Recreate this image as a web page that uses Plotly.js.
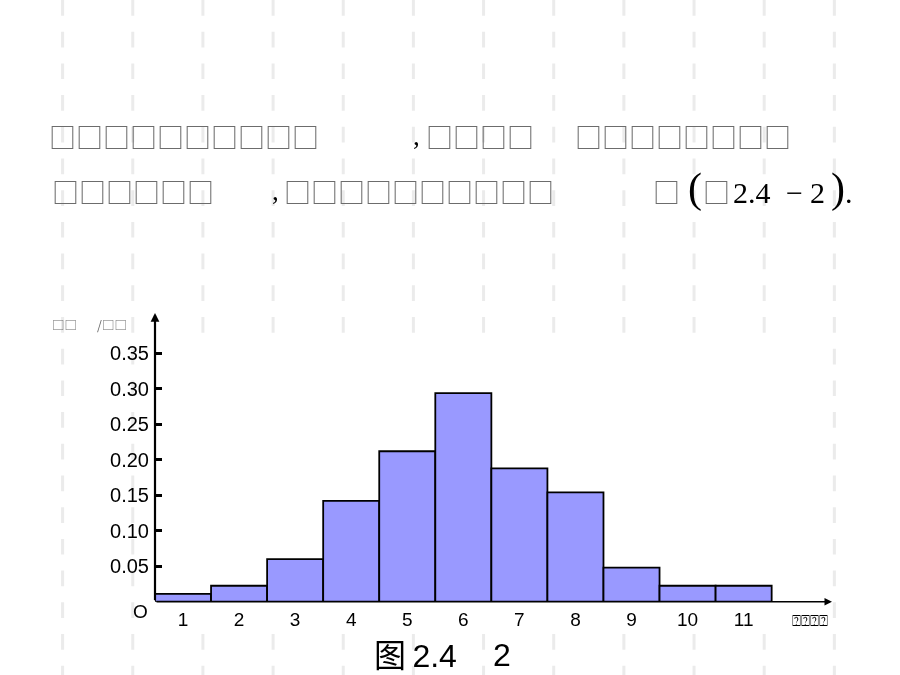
<!DOCTYPE html>
<html>
<head>
<meta charset="utf-8">
<script src="https://cdn.plot.ly/plotly-3.0.1.min.js"></script>
<style>
  html, body { margin: 0; padding: 0; background: #ffffff; }
  #chart { width: 900px; height: 675px; }
  #chart .annotation-text, #chart .xtick text, #chart .ytick text { filter: grayscale(100%); }
</style>
</head>
<body>
<div id="chart"></div>
<script>
// ---- data ----
const binNumbers = [1, 2, 3, 4, 5, 6, 7, 8, 9, 10, 11];
const binLabels = ['1', '2', '3', '4', '5', '6', '7', '8', '9', '10', '11'];
const densityValues = [0.011, 0.0225, 0.06, 0.142, 0.212, 0.294, 0.188, 0.154, 0.048, 0.0225, 0.0225];
const yTickValues = [0.05, 0.10, 0.15, 0.20, 0.25, 0.30, 0.35];
const yTickLabels = ['0.05', '0.10', '0.15', '0.20', '0.25', '0.30', '0.35'];

// ---- texts (the reference shows missing-glyph boxes) ----
const yTitleA = '□□';
const yTitleB = '/□□';
const xTitle = '⍰⍰⍰⍰';
const captionA = '图\u20092.4';
const captionB = '2';
const originLabel = 'O';

// ---- layout helpers (page pixels -> paper fractions) ----
const W = 900, H = 675;
const px = x => x / W;
const py = y => 1 - y / H;

const axisLeftPx = 155, axisTipPx = 832, axisZeroPx = 601.7, axisTopPx = 313;
const pxPerUnitX = 56.06, pxPerUnitY = 709.7;
const xMin = 0.5, xMax = xMin + (axisTipPx - axisLeftPx) / pxPerUnitX;
const yMax = (axisZeroPx - axisTopPx) / pxPerUnitY;

const trace = {
  type: 'bar',
  x: binNumbers,
  y: densityValues,
  width: 1,
  marker: { color: '#9999ff', line: { color: '#000000', width: 1.8 } },
  hoverinfo: 'skip'
};

// background dashed columns
const shapes = [];
for (let k = 0; k < 12; k++) {
  const xp = 62.6 + 70.16 * k;
  shapes.push({
    type: 'line', xref: 'paper', yref: 'paper', layer: 'below',
    x0: px(xp), x1: px(xp), y0: 1, y1: 0,
    line: { color: '#ebebeb', width: 3, dash: '15.7px,16px' }
  });
}
// white panel behind the chart
shapes.push({
  type: 'rect', xref: 'paper', yref: 'paper', layer: 'below',
  x0: px(140), x1: px(805), y0: py(630), y1: py(335),
  fillcolor: '#ffffff', line: { width: 0 }
});

const tofu = 'Noto Sans CJK SC';
const serif = 'Liberation Serif, Times New Roman, serif';
const sans = 'Liberation Sans, Arial, sans-serif';
const gray = '#6c6c6c';

function txt(text, x, y, size, family, color, xanchor) {
  return {
    text: text, xref: 'paper', yref: 'paper', x: px(x), y: py(y),
    xanchor: xanchor || 'left', yanchor: 'middle', showarrow: false,
    borderpad: 0,
    font: { size: size, family: family, color: color }
  };
}

const annotations = [
  // line 1
  txt('□'.repeat(10), 47.5, 136, 27, tofu, gray),
  txt(',', 412, 136, 27, serif, '#000'),
  txt('□'.repeat(4), 424.5, 136, 27, tofu, gray),
  txt('□'.repeat(8), 573.5, 136, 27, tofu, gray),
  // line 2
  txt('□'.repeat(6), 50.5, 191.5, 27, tofu, gray),
  txt(',', 271, 191.5, 27, serif, '#000'),
  txt('□'.repeat(10), 282.5, 191.5, 27, tofu, gray),
  txt('□', 651.5, 191.5, 27, tofu, gray),
  txt('(', 687, 188, 42, serif, '#000'),
  txt('□', 701.5, 191.5, 27, tofu, gray),
  txt('2.4', 732, 192, 30, serif, '#000'),
  txt('−', 794.5, 192, 30, serif, '#000', 'center'),
  txt('2', 809, 192, 30, serif, '#000'),
  txt(')', 830, 188, 42, serif, '#000'),
  txt('.', 844, 192, 30, serif, '#000'),
  // axis titles
  txt(yTitleA, 50.5, 324, 12.5, tofu, gray),
  txt(yTitleB, 95.5, 324, 12.5, tofu, gray),
  txt(xTitle, 791, 621, 15, 'DejaVu Sans', '#000'),
  // origin
  txt(originLabel, 140, 611, 19, sans, '#000', 'center'),
  // caption
  txt(captionA, 373, 656, 32, sans + ', Noto Sans CJK SC', '#000'),
  txt(captionB, 492, 655, 32, sans, '#000'),
  // axis arrows
  {
    xref: 'x', yref: 'y', axref: 'x', ayref: 'y',
    x: xMin, y: yMax, ax: xMin, ay: 0, text: '', showarrow: true,
    arrowhead: 2, arrowsize: 0.8, arrowwidth: 2.2, arrowcolor: '#000'
  },
  {
    xref: 'x', yref: 'y', axref: 'x', ayref: 'y',
    x: xMax, y: 0, ax: xMin, ay: 0, text: '', showarrow: true,
    arrowhead: 2, arrowsize: 1, arrowwidth: 1.5, arrowcolor: '#000'
  }
];

const layout = {
  width: W, height: H,
  margin: { l: 0, r: 0, t: 0, b: 0, pad: 0 },
  paper_bgcolor: '#ffffff',
  plot_bgcolor: 'rgba(0,0,0,0)',
  showlegend: false,
  bargap: 0,
  xaxis: {
    domain: [px(axisLeftPx), px(axisTipPx)],
    range: [xMin, xMax],
    showline: false, showgrid: false, zeroline: false,
    ticks: '', tickvals: binNumbers, ticktext: binLabels,
    tickfont: { family: sans, size: 19, color: '#000' },
    ticklabelstandoff: 4,
    fixedrange: true
  },
  yaxis: {
    domain: [py(axisZeroPx), py(axisTopPx)],
    range: [0, yMax],
    showline: false, showgrid: false, zeroline: false,
    ticks: 'inside', ticklen: 7, tickwidth: 3, tickcolor: '#000',
    tickvals: yTickValues, ticktext: yTickLabels,
    tickfont: { family: sans, size: 20, color: '#000' },
    ticklabelstandoff: 5,
    fixedrange: true
  },
  shapes: shapes,
  annotations: annotations
};

Plotly.newPlot('chart', [trace], layout, { staticPlot: true, displayModeBar: false });
</script>
</body>
</html>
